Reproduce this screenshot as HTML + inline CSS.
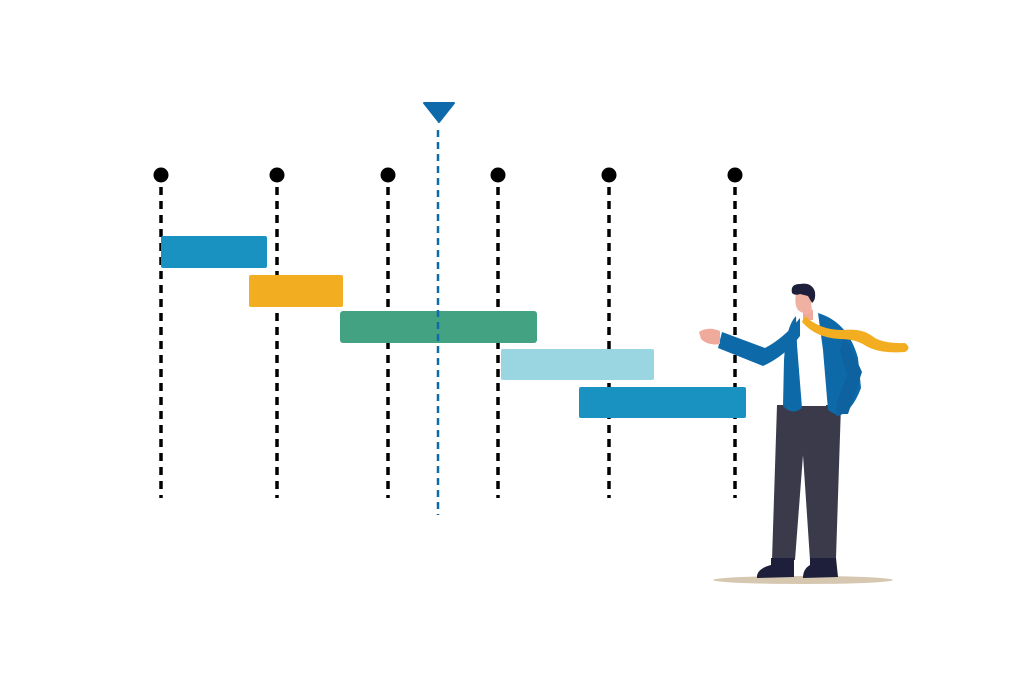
<!DOCTYPE html>
<html><head><meta charset="utf-8"><style>html,body{margin:0;padding:0;background:#fff}svg{display:block}</style></head>
<body>
<svg width="1024" height="683" viewBox="0 0 1024 683" xmlns="http://www.w3.org/2000/svg">
<rect width="1024" height="683" fill="#fff"/>
<g stroke="#000" stroke-width="3.5" stroke-dasharray="8,6" fill="none">
<line x1="161" y1="187" x2="161" y2="498"/>
<line x1="277" y1="187" x2="277" y2="498"/>
<line x1="388" y1="187" x2="388" y2="498"/>
<line x1="498" y1="187" x2="498" y2="498"/>
<line x1="609" y1="187" x2="609" y2="498"/>
<line x1="735" y1="187" x2="735" y2="498"/>
</g>
<g fill="#000">
<circle cx="161" cy="175" r="7.5"/><circle cx="277" cy="175" r="7.5"/><circle cx="388" cy="175" r="7.5"/>
<circle cx="498" cy="175" r="7.5"/><circle cx="609" cy="175" r="7.5"/><circle cx="735" cy="175" r="7.5"/>
</g>
<rect x="161" y="236" width="106" height="32" rx="2" fill="#1992c1"/>
<rect x="249" y="275" width="94" height="32" rx="2" fill="#f3ad20"/>
<rect x="340" y="311" width="197" height="32" rx="3" fill="#42a282"/>
<rect x="501" y="349" width="153" height="31" rx="2" fill="#9ad5e2"/>
<rect x="579" y="387" width="167" height="31" rx="2" fill="#1992c1"/>
<line x1="438" y1="130" x2="438" y2="515" stroke="#0e6aab" stroke-width="2.5" stroke-dasharray="7,5"/>
<path d="M424 103 L454 103 L439 122 Z" fill="#0e6aab" stroke="#0e6aab" stroke-width="2" stroke-linejoin="round"/>
<!-- man -->
<ellipse cx="803" cy="580" rx="90" ry="4" fill="#d6c7b0"/>
<path d="M777 405 L772 560 L795 560 L803 455 L810 560 L836 558 L841 405 Z" fill="#3b3a4b"/>
<path d="M771 558 L794 558 L794 577 L757 578 Q756 569 771 565 Z" fill="#1e1f3a"/>
<path d="M810 558 L836 558 L838 577 L803 578 Q803 569 810 565 Z" fill="#1e1f3a"/>
<path d="M796 314 L824 314 L826 406 L794 406 Z" fill="#fff"/>
<path d="M796 316 Q786 326 784 360 L783 406 Q792 416 802 408 L797 345 Z" fill="#0d69a8"/>
<path d="M818 313 Q848 322 858 358 L861 388 Q852 412 838 416 L828 410 L823 350 Z" fill="#0d69a8"/>
<path d="M845 335 L862 372 L848 414 L837 414 L836 404 L847 376 L840 350 Z" fill="#0f62a0"/>
<path d="M800 318 Q784 338 765 348 L722 332 L718 348 L763 366 Q785 356 800 336 Z" fill="#0d69a8"/>
<path d="M699 332 Q708 326 720 331 L720 344 Q708 346 701 339 Z" fill="#efaa9c"/>
<path d="M803 308 L813 310 L813 320 L803 320 Z" fill="#efaa9c"/>
<path d="M796 294 Q800 288 810 292 L812 312 Q805 316 798 310 Q794 304 796 294 Z" fill="#f0b0a2"/>
<path d="M792 293 Q790 284 800 284 Q812 282 815 292 Q816 300 812 303 L808 296 L800 294 Q795 296 792 293 Z" fill="#1e1f3a"/>
<path d="M805 316 Q820 330 842 330 Q862 328 872 336 Q882 344 905 343 Q912 348 905 352 Q880 354 866 346 Q856 339 840 339 Q816 338 802 322 Z" fill="#f3ad20"/>
</svg>
</body></html>
